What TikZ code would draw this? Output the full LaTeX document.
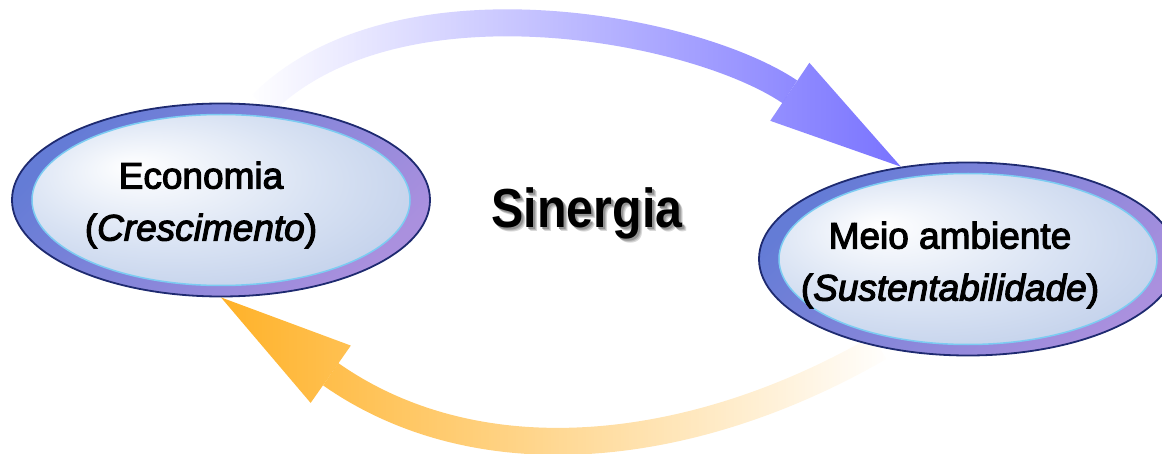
\documentclass[tikz,border=0pt]{standalone}
\usepackage{fontspec}
\setmainfont{Liberation Sans}
\newfontfamily\ovalsans{Liberation Sans}[FakeBold=3]
\newfontfamily\narrowsans{Liberation Sans}[FakeStretch=0.88]
\usetikzlibrary{shapes.geometric,arrows.meta,fadings,backgrounds}
\definecolor{ovalline}{RGB}{30,42,112}
\definecolor{rimblue}{RGB}{100,124,214}
\definecolor{rimpurple}{RGB}{170,144,222}
\definecolor{coreline}{RGB}{124,204,242}
\definecolor{coremid}{RGB}{216,226,243}
\definecolor{coreedge}{RGB}{166,186,224}
\definecolor{flowblue}{RGB}{118,112,255}
\definecolor{floworange}{RGB}{255,176,36}
\pgfdeclareradialshading{coreglow}{\pgfpoint{-12bp}{10bp}}{color(0bp)=(white); color(20bp)=(coremid); color(50bp)=(coreedge)}
\newcommand{\softshadow}[1]{\rlap{\kern4pt\raisebox{-4pt}{\color{black!15}#1}}\rlap{\kern3pt\raisebox{-3pt}{\color{black!28}#1}}\rlap{\kern2pt\raisebox{-2pt}{\color{black!42}#1}}#1}

\begin{document}
\begin{tikzpicture}[x=1pt,y=1pt,
	oval/.style={ellipse,draw=ovalline,line width=1.8pt,minimum width=418pt,minimum height=193pt,inner sep=0pt,left color=rimblue,right color=rimpurple,shading angle=45},
	core/.style={ellipse,draw=coreline,line width=1.5pt,minimum width=378pt,minimum height=171pt,inner sep=0pt,shade,shading=coreglow},
	ovaltext/.style={align=center,inner sep=0pt,font=\ovalsans\fontsize{37}{52}\selectfont},
	title/.style={anchor=base,inner sep=0pt,font=\narrowsans\bfseries\fontsize{55}{60}\selectfont},
	flow/.style={line width=27pt,-{Triangle[length=134pt,width=70pt,line width=0pt]}}]
	\useasboundingbox (0,0) rectangle (1162,453);
	\node[oval] (eco) at (221,253) {};
	\node[core] (ecocore) at (eco.center) {};
	\node[ovaltext] (ecotext) at ([shift={(-20,-5)}]eco.center) {Economia\\(\textit{Crescimento})};
	\node[oval] (env) at (968,194) {};
	\node[core] (envcore) at (env.center) {};
	\node[ovaltext] (envtext) at ([shift={(-18,-6)}]env.center) {Meio ambiente\\(\textit{Sustentabilidade})};
	\node[title] (synergy) at (587,225) {\softshadow{Sinergia}};
	\begin{scope}[on background layer]
		\draw[flow,draw=flowblue,path fading=west] (eco.67) to[out=45,in=146,out distance=189pt,in distance=250pt] (env.126);
		\draw[flow,draw=floworange,path fading=east] (env.225) to[out=210,in=-35,out distance=215pt,in distance=316pt] (eco.270);
	\end{scope}
\end{tikzpicture}
\end{document}
